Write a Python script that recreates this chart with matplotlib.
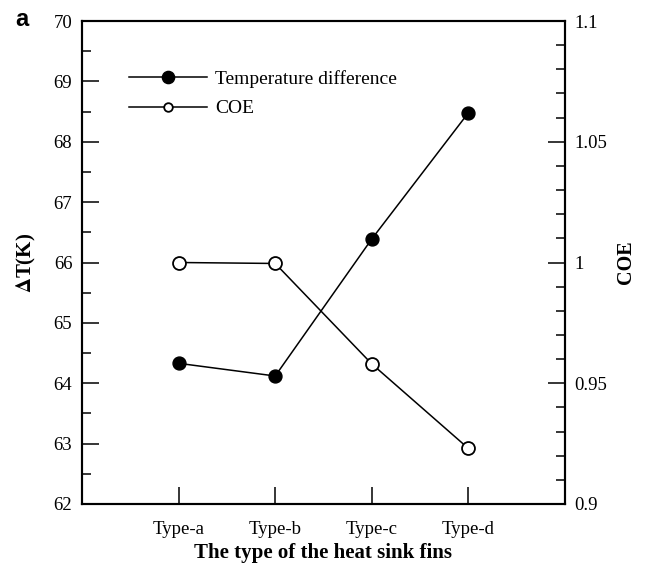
import matplotlib
matplotlib.use("Agg")
import matplotlib.pyplot as plt
from matplotlib.lines import Line2D
from matplotlib.ticker import MultipleLocator, FuncFormatter

# data
fin_types = ["Type-a", "Type-b", "Type-c", "Type-d"]
delta_t = [64.33, 64.12, 66.39, 68.48]
coe = [1.000, 0.9996, 0.958, 0.923]

plt.rcParams['font.family'] = ['Liberation Serif', 'DejaVu Serif']
plt.rcParams['mathtext.fontset'] = 'stix'

fig = plt.figure(figsize=(6.51, 5.73), dpi=100)
ax = fig.add_axes([82 / 651, 69 / 573, 483 / 651, 483 / 573])
ax2 = ax.twinx()

x = list(range(1, len(fin_types) + 1))

ax.plot(x, delta_t, '-', color='black', lw=1.1, marker='o', ms=9.3,
        mfc='black', mec='black')
ax2.plot(x, coe, '-', color='black', lw=1.1, marker='o', ms=9.3,
         mfc='white', mec='black', mew=1.3)

ax.set_xlim(0, 5)
ax.set_ylim(62, 70)
ax2.set_ylim(0.9, 1.1)

ax.set_xticks(x)
ax.set_xticklabels(fin_types)
ax.yaxis.set_major_locator(MultipleLocator(1))
ax.yaxis.set_minor_locator(MultipleLocator(0.5))
ax2.yaxis.set_major_locator(MultipleLocator(0.05))
ax2.yaxis.set_minor_locator(MultipleLocator(0.01))


def fmt(v, pos):
    return f"{v:.2f}".rstrip('0').rstrip('.')


ax2.yaxis.set_major_formatter(FuncFormatter(fmt))

for a in (ax, ax2):
    for sp in a.spines.values():
        sp.set_linewidth(1.5)

ax.tick_params(axis='x', which='major', direction='in', length=12, width=1.1,
               labelsize=13.5, pad=12, top=False)
ax.tick_params(axis='y', which='major', direction='in', length=12, width=1.1,
               labelsize=13.5, pad=7, right=False)
ax.tick_params(axis='y', which='minor', direction='in', length=6.5, width=1.1, right=False)
ax2.tick_params(axis='y', which='major', direction='in', length=12, width=1.1,
                labelsize=13.5, pad=7)
ax2.tick_params(axis='y', which='minor', direction='in', length=6.5, width=1.1)

ax.set_xlabel('The type of the heat sink fins', fontsize=15, fontweight='bold', labelpad=4)
ax.set_ylabel(r'$\mathbf{\Delta}$T(K)', fontsize=15, fontweight='bold', labelpad=11)
ax2.set_ylabel('COE', fontsize=14.5, fontweight='bold', labelpad=6)

# legend markers are drawn a bit smaller than in the plot
h1 = Line2D([], [], color='black', lw=1.1, marker='o', ms=8.8, mfc='black', mec='black')
h2 = Line2D([], [], color='black', lw=1.1, marker='o', ms=6.2, mfc='white', mec='black', mew=1.3)
ax.legend(handles=[h1, h2], labels=['Temperature difference', 'COE'],
          loc='upper left', bbox_to_anchor=(0.097, 0.899),
          frameon=False, fontsize=14, handlelength=4.0, handletextpad=0.45,
          labelspacing=0.62, borderpad=0, borderaxespad=0)

fig.text(15 / 651, 1 - 20 / 573, 'a', fontsize=17, fontweight='bold',
         family='Liberation Sans', ha='left', va='center')

fig.savefig('out.png', dpi=100)
